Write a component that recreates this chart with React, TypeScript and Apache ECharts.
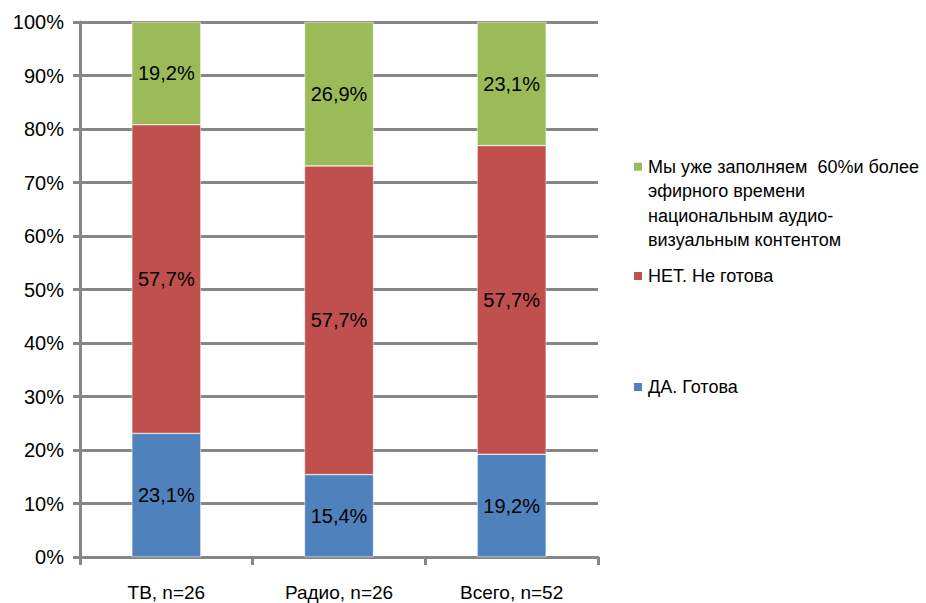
import React, { useEffect, useRef } from "react";
import * as echarts from "echarts";

const categories = ["ТВ, n=26", "Радио, n=26", "Всего, n=52"];
const seriesNames = [
  "ДА. Готова",
  "НЕТ. Не готова",
  "Мы уже заполняем  60%и более эфирного времени национальным аудио-визуальным контентом",
];
const yesValues = [23.1, 15.4, 19.2];
const noValues = [57.7, 57.7, 57.7];
const alreadyValues = [19.2, 26.9, 23.1];
const colors = ["#4F81BD", "#C0504D", "#9BBB59"];
const greenLegendLines = [
  "Мы уже заполняем  60%и более",
  "эфирного времени",
  "национальным аудио-",
  "визуальным контентом",
];

const FONT = "'Liberation Sans', Arial, sans-serif";

export default function App() {
  const ref = useRef<HTMLDivElement>(null);
  useEffect(() => {
    document.body.style.margin = "0";
    const chart = echarts.init(ref.current!, null, { renderer: "svg" });
    const values = [yesValues, noValues, alreadyValues];
    const labelFmt = (p: any) => String(p.value.toFixed(1)).replace(".", ",") + "%";
    chart.setOption({
      animation: false,
      textStyle: { fontFamily: FONT },
      grid: { left: 80, right: 328, top: 22, bottom: 46, containLabel: false },
      xAxis: {
        type: "category",
        data: categories,
        axisLine: { lineStyle: { color: "#868686", width: 3 } },
        axisTick: { show: true, length: 8, lineStyle: { color: "#868686", width: 3 } },
        axisLabel: { color: "#000", fontSize: 19, margin: 26, fontFamily: FONT },
      },
      yAxis: {
        type: "value",
        min: 0,
        max: 100,
        interval: 10,
        axisLine: { show: true, lineStyle: { color: "#868686", width: 3 } },
        axisTick: { show: true, length: 7, lineStyle: { color: "#868686", width: 3 } },
        axisLabel: { color: "#000", fontSize: 20, margin: 16, formatter: "{value}%", fontFamily: FONT },
        splitLine: { show: true, lineStyle: { color: "#868686", width: 3 } },
      },
      legend: [
        {
          orient: "vertical",
          left: 632,
          top: 81,
          padding: 0,
          itemWidth: 10,
          itemHeight: 10,
          icon: "rect",
          data: [seriesNames[2]],
          formatter: () => "\n\n\n" + greenLegendLines.join("\n"),
          textStyle: { fontSize: 18, color: "#000", lineHeight: 24.5, fontFamily: FONT },
        },
        {
          orient: "vertical",
          left: 632,
          top: 267,
          padding: 0,
          itemWidth: 10,
          itemHeight: 10,
          icon: "rect",
          data: [seriesNames[1]],
          textStyle: { fontSize: 18, color: "#000", fontFamily: FONT },
        },
        {
          orient: "vertical",
          left: 632,
          top: 378,
          padding: 0,
          itemWidth: 10,
          itemHeight: 10,
          icon: "rect",
          data: [seriesNames[0]],
          textStyle: { fontSize: 18, color: "#000", fontFamily: FONT },
        },
      ],
      series: values.map((v, i) => ({
        name: seriesNames[i],
        type: "bar",
        stack: "total",
        barWidth: 69,
        data: v,
        itemStyle: { color: colors[i], borderColor: "#ffffff", borderWidth: 0.5 },
        label: {
          show: true,
          position: "inside",
          color: "#000",
          fontSize: 20,
          fontFamily: FONT,
          formatter: labelFmt,
        },
      })),
    });
    return () => chart.dispose();
  }, []);
  return (
    <div
      ref={ref}
      style={{ position: "fixed", left: 0, top: 0, width: 926, height: 603, background: "#fff" }}
    />
  );
}
